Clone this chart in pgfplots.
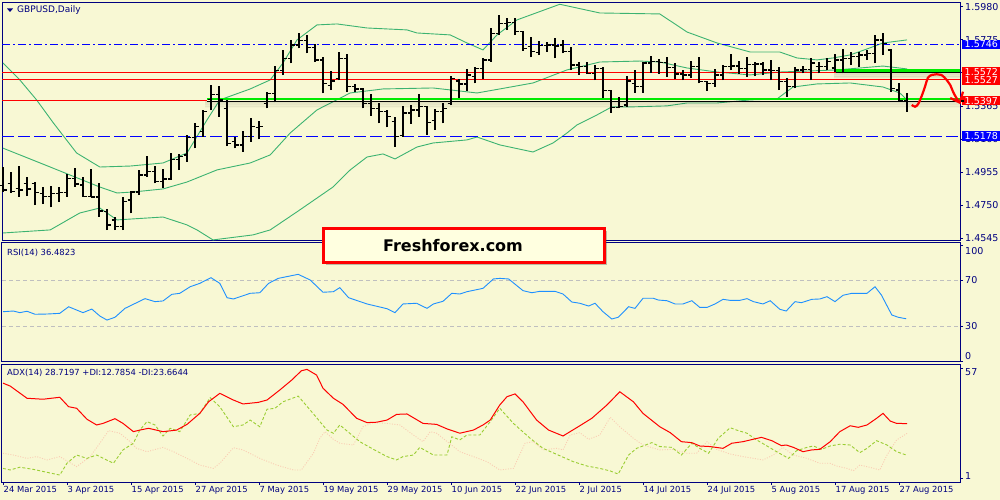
\documentclass[border=0pt]{standalone}
\usepackage{pgfplots}
\pgfplotsset{compat=1.18}
\usepackage{pgfplotstable}
\usepackage{fontspec}
\setmainfont{DejaVu Sans}
\usetikzlibrary{shadows}

\definecolor{bg}{RGB}{248,248,212}
\definecolor{frame}{RGB}{0,0,128}
\definecolor{bband}{RGB}{60,179,113}
\definecolor{rsiblue}{RGB}{30,144,255}
\definecolor{pdi}{RGB}{154,205,50}
\definecolor{mdi}{RGB}{250,205,180}
\definecolor{lvlgreen}{RGB}{0,235,0}
\definecolor{logofill}{RGB}{255,255,224}

\pgfdeclareplotmark{opentick}{\pgfpathmoveto{\pgfpoint{-3.5pt}{0pt}}\pgfpathlineto{\pgfpoint{0pt}{0pt}}\pgfusepathqstroke}
\pgfdeclareplotmark{closetick}{\pgfpathmoveto{\pgfpoint{0pt}{0pt}}\pgfpathlineto{\pgfpoint{3.5pt}{0pt}}\pgfusepathqstroke}

\newcommand\tickfont{\fontsize{9.5}{10}\selectfont}
\newcommand\lblfont{\fontsize{8.4}{9}\selectfont}

% GBPUSD daily bars: index, open, high, low, close
\pgfplotstableread{
i o h l c
0 1.4870 1.4988 1.4833 1.4843
1 1.4885 1.4957 1.4827 1.4833
2 1.4853 1.4994 1.4802 1.4843
3 1.4885 1.4926 1.4806 1.4850
4 1.4885 1.4895 1.4750 1.4827
5 1.4823 1.4864 1.4756 1.4802
6 1.4802 1.4868 1.4736 1.4823
7 1.4823 1.4864 1.4771 1.4829
8 1.4829 1.4943 1.4802 1.4916
9 1.4916 1.4978 1.4864 1.4880
10 1.4875 1.4926 1.4802 1.4802
11 1.4805 1.4971 1.4798 1.4800
12 1.4800 1.4889 1.4678 1.4713
13 1.4710 1.4723 1.4595 1.4626
14 1.4657 1.4678 1.4595 1.4616
15 1.4616 1.4798 1.4595 1.4771
16 1.4781 1.4839 1.4699 1.4830
17 1.4830 1.4967 1.4812 1.4937
18 1.4937 1.5056 1.4926 1.4957
19 1.4957 1.4992 1.4885 1.4895
20 1.4895 1.4971 1.4854 1.4912
21 1.4912 1.5075 1.4906 1.5034
22 1.5034 1.5065 1.4967 1.5050
23 1.5060 1.5185 1.5019 1.5170
24 1.5170 1.5257 1.5102 1.5236
25 1.5205 1.5339 1.5174 1.5329
26 1.5406 1.5494 1.5339 1.5437
27 1.5437 1.5488 1.5298 1.5401
28 1.5350 1.5401 1.5116 1.5130
29 1.5143 1.5174 1.5102 1.5123
30 1.5123 1.5212 1.5081 1.5174
31 1.5174 1.5288 1.5143 1.5236
32 1.5230 1.5274 1.5158 1.5236
33 1.5380 1.5453 1.5350 1.5440
34 1.5443 1.5612 1.5387 1.5583
35 1.5583 1.5711 1.5556 1.5660
36 1.5660 1.5773 1.5629 1.5742
37 1.5742 1.5815 1.5722 1.5770
38 1.5770 1.5804 1.5691 1.5726
39 1.5726 1.5747 1.5639 1.5650
40 1.5650 1.5666 1.5443 1.5505
41 1.5490 1.5583 1.5463 1.5520
42 1.5534 1.5697 1.5525 1.5660
43 1.5660 1.5687 1.5453 1.5484
44 1.5484 1.5501 1.5453 1.5470
45 1.5470 1.5474 1.5350 1.5381
46 1.5381 1.5437 1.5303 1.5350
47 1.5350 1.5381 1.5257 1.5330
48 1.5330 1.5339 1.5232 1.5298
49 1.5270 1.5298 1.5112 1.5174
50 1.5180 1.5364 1.5174 1.5320
51 1.5320 1.5370 1.5253 1.5339
52 1.5339 1.5437 1.5298 1.5360
53 1.5360 1.5364 1.5185 1.5261
54 1.5274 1.5344 1.5216 1.5329
55 1.5329 1.5385 1.5257 1.5350
56 1.5380 1.5550 1.5370 1.5535
57 1.5520 1.5530 1.5416 1.5500
58 1.5500 1.5592 1.5459 1.5556
59 1.5546 1.5608 1.5505 1.5597
60 1.5597 1.5660 1.5532 1.5650
61 1.5650 1.5846 1.5640 1.5815
62 1.5815 1.5928 1.5804 1.5877
63 1.5877 1.5908 1.5835 1.5881
64 1.5881 1.5908 1.5804 1.5825
65 1.5825 1.5830 1.5707 1.5722
66 1.5732 1.5794 1.5666 1.5701
67 1.5697 1.5767 1.5680 1.5738
68 1.5738 1.5763 1.5701 1.5742
69 1.5742 1.5784 1.5660 1.5736
70 1.5742 1.5773 1.5691 1.5701
71 1.5701 1.5732 1.5587 1.5618
72 1.5618 1.5639 1.5556 1.5608
73 1.5608 1.5639 1.5563 1.5567
74 1.5567 1.5618 1.5525 1.5598
75 1.5598 1.5604 1.5412 1.5459
76 1.5459 1.5463 1.5323 1.5356
77 1.5356 1.5422 1.5350 1.5360
78 1.5370 1.5550 1.5360 1.5520
79 1.5505 1.5588 1.5447 1.5484
80 1.5484 1.5639 1.5447 1.5630
81 1.5630 1.5675 1.5571 1.5639
82 1.5639 1.5654 1.5563 1.5633
83 1.5633 1.5666 1.5546 1.5602
84 1.5602 1.5629 1.5530 1.5563
85 1.5563 1.5588 1.5525 1.5556
86 1.5556 1.5643 1.5536 1.5608
87 1.5608 1.5666 1.5505 1.5515
88 1.5515 1.5520 1.5459 1.5505
89 1.5505 1.5592 1.5484 1.5556
90 1.5556 1.5618 1.5525 1.5608
91 1.5608 1.5687 1.5587 1.5612
92 1.5612 1.5646 1.5563 1.5598
93 1.5598 1.5670 1.5546 1.5620
94 1.5620 1.5639 1.5550 1.5625
95 1.5625 1.5639 1.5556 1.5587
96 1.5587 1.5649 1.5525 1.5583
97 1.5583 1.5608 1.5463 1.5515
98 1.5515 1.5536 1.5422 1.5484
99 1.5484 1.5608 1.5474 1.5587
100 1.5587 1.5612 1.5567 1.5592
101 1.5592 1.5660 1.5525 1.5630
102 1.5610 1.5639 1.5567 1.5608
103 1.5608 1.5660 1.5587 1.5639
104 1.5600 1.5687 1.5577 1.5649
105 1.5649 1.5716 1.5567 1.5660
106 1.5660 1.5701 1.5618 1.5670
107 1.5670 1.5701 1.5608 1.5680
108 1.5680 1.5712 1.5649 1.5691
109 1.5691 1.5804 1.5629 1.5773
110 1.5773 1.5819 1.5680 1.5753
111 1.5712 1.5716 1.5453 1.5474
112 1.5464 1.5505 1.5398 1.5400
113 1.5400 1.5447 1.5329 1.5393
}\bars

\pgfplotsset{
  mt/.style={
    scale only axis, width=958pt,
    xmin=-0.125, xmax=119.625,
    axis line style={frame, line width=1pt},
    xtick=\empty,
    ytick pos=right, yticklabel pos=right,
    tick align=outside, major tick length=3pt,
    tick style={frame, line width=0.7pt},
    yticklabel style={font=\tickfont, text=frame, anchor=west, inner sep=0pt, xshift=2pt},
    clip=false,
  },
}

\begin{document}
\begin{tikzpicture}[x=1pt,y=1pt]
\fill[bg] (0,0) rectangle (1000,500);

% ---------------- price window
\begin{axis}[mt, at={(2pt,497pt)}, anchor=north west, height=238pt,
  ymin=1.45273, ymax=1.60029,
  ytick={1.4545,1.4750,1.4955,1.5160,1.5365,1.5570,1.5775,1.5980},
  yticklabels={1.4545,1.4750,1.4955,1.5160,1.5365,1.5570,1.5775,1.5980},
]
% bollinger bands
\addplot[bband, line width=0.9pt] coordinates {(0,1.5631)(2.1,1.5526)(4.2,1.5402)(6.3,1.5259)(9.2,1.5073)(12.1,1.4986)(15.9,1.4992)(20,1.5011)(23,1.5073)(25.5,1.5278)(27.1,1.5402)(30.9,1.5470)(33.4,1.5526)(35,1.5631)(36.75,1.5774)(39.25,1.5867)(41.75,1.5873)(45.5,1.5848)(50.5,1.5836)(51.75,1.5817)(55.9,1.5805)(58,1.5755)(60,1.5712)(61.75,1.5805)(64.25,1.5898)(69.6,1.5995)(74.6,1.5941)(82.1,1.5935)(85.5,1.5823)(89.25,1.5755)(93.4,1.5699)(97.1,1.5699)(99.25,1.5662)(101.75,1.5650)(103.75,1.5662)(105.9,1.5681)(108,1.5718)(110,1.5755)(113,1.5774)};
\addplot[bband, line width=0.9pt] coordinates {(0,1.5103)(5.9,1.4986)(12.1,1.4862)(14.25,1.4825)(16.25,1.4831)(20,1.4850)(23,1.4893)(26.75,1.4968)(30.9,1.5011)(33.4,1.5061)(35.9,1.5197)(39.25,1.5340)(43.4,1.5445)(47.5,1.5470)(53.75,1.5476)(55.9,1.5464)(59.25,1.5445)(62.1,1.5470)(66.25,1.5507)(70.5,1.5588)(74.6,1.5637)(79.6,1.5643)(82.1,1.5637)(85.5,1.5600)(89.25,1.5575)(93.4,1.5557)(97.1,1.5575)(100.5,1.5581)(104.25,1.5588)(110,1.5612)(113,1.5594)};
\addplot[bband, line width=0.9pt] coordinates {(0,1.4577)(5.9,1.4596)(9.6,1.4701)(12.1,1.4732)(14.25,1.4658)(20,1.4676)(23,1.4627)(24.25,1.4596)(26.25,1.4534)(31.25,1.4565)(33.4,1.4596)(37.1,1.4720)(41.25,1.4862)(43.4,1.4968)(45.5,1.5048)(47.5,1.5067)(49,1.5036)(51.75,1.5110)(53.75,1.5135)(58,1.5154)(59.25,1.5172)(62.1,1.5123)(66.25,1.5079)(68.75,1.5135)(70.5,1.5197)(71.75,1.5247)(74.25,1.5309)(76.1,1.5359)(78.75,1.5359)(83,1.5365)(85.5,1.5383)(89.25,1.5383)(93.4,1.5402)(96.75,1.5408)(98.75,1.5482)(101.75,1.5501)(105.9,1.5507)(110,1.5482)(112.1,1.5445)(113,1.5402)};

% levels
\addplot[blue, line width=1pt, dash pattern=on 8pt off 3pt on 2pt off 3pt] coordinates {(-0.125,1.5746)(119.625,1.5746)};
\addplot[blue, line width=1pt, dash pattern=on 12pt off 4pt] coordinates {(-0.125,1.5178)(119.625,1.5178)};
\addplot[red, line width=1.1pt] coordinates {(-0.125,1.5572)(119.625,1.5572)};
\addplot[red, line width=1.1pt] coordinates {(-0.125,1.5527)(119.625,1.5527)};
\addplot[red, line width=1.1pt] coordinates {(-0.125,1.5397)(25.5,1.5397)};

% soft shadows under the green levels
\foreach \d/\o in {0.0009/0.10,0.0019/0.07,0.0028/0.045,0.0037/0.025}{
  \edef\tmp{\noexpand\addplot[black, opacity=\o, line width=2pt] coordinates {(25.3,{1.5395-\d})(119.625,{1.5395-\d})};
            \noexpand\addplot[black, opacity=\o, line width=2pt] coordinates {(103.9,{1.5572-\d})(119.625,{1.5572-\d})};}
  \tmp
}
\addplot[black, line width=1pt] coordinates {(25.5,1.5395)(119.625,1.5395)};
\addplot[lvlgreen, line width=2.2pt] coordinates {(25.5,1.5406)(119.625,1.5406)};
\addplot[black, line width=1pt] coordinates {(104.1,1.5571)(119.625,1.5571)};
\addplot[lvlgreen, line width=2.8pt] coordinates {(104.1,1.5583)(119.625,1.5583)};

% OHLC bars
\addplot[draw=none, mark=none, error bars/.cd, y dir=plus, y explicit, error mark=none,
  error bar style={black, line width=1.6pt}]
  table[x=i, y=l, y error expr=\thisrow{h}-\thisrow{l}] {\bars};
\addplot[only marks, mark=opentick, mark options={black, line width=1.4pt}] table[x=i, y=o] {\bars};
\addplot[only marks, mark=closetick, mark options={black, line width=1.4pt}] table[x=i, y=c] {\bars};

% hand drawn forecast
\addplot[red, line width=2.2pt, smooth, tension=0.6] coordinates {(113.6,1.5371)(114,1.5360)(114.4,1.5377)(114.8,1.5422)(115.25,1.5484)(115.6,1.5538)(116.1,1.5557)(116.7,1.5561)(117.3,1.5557)(117.96,1.5526)(118.4,1.5495)(118.75,1.5453)(119.2,1.5412)(119.6,1.5385)};
\addplot[red, line width=2.2pt] coordinates {(118.4,1.5414)(119.6,1.5385)(120.0,1.5453)};

\coordinate (b5746) at (axis cs:119.625,1.5746);
\coordinate (b5572) at (axis cs:119.625,1.5572);
\coordinate (b5527) at (axis cs:119.625,1.5527);
\coordinate (b5397) at (axis cs:119.625,1.5397);
\coordinate (b5178) at (axis cs:119.625,1.5178);
\end{axis}

% ---------------- RSI window
\begin{axis}[mt, at={(2pt,257pt)}, anchor=north west, height=119pt,
  ymin=-0.84, ymax=101.97,
  ytick={0,30,70,100}, yticklabels={,30,70,},
  extra y ticks={95.3,4.6}, extra y tick labels={100,0},
  extra y tick style={tick style={draw=none}},
]
\addplot[black!25, line width=0.8pt, dash pattern=on 4pt off 3pt] coordinates {(-0.125,70)(119.625,70)};
\addplot[black!25, line width=0.8pt, dash pattern=on 4pt off 3pt] coordinates {(-0.125,30)(119.625,30)};
\addplot[rsiblue, line width=0.9pt] coordinates {(0,42.6)(1.3,43.2)(2.1,41.8)(3,43.0)(4,40.4)(5.5,40.6)(7.1,41.2)(8.2,46.9)(10,41.8)(11.1,44.9)(12.1,38.9)(13,35.4)(14,37.8)(15.25,45.5)(17.75,53.9)(19,51.3)(20,51.9)(21.1,57.6)(22.1,58.5)(23.4,64.2)(24.6,67.1)(26,72.0)(27.1,67.1)(28,54.7)(28.8,53.6)(30.9,58.5)(32.1,59.0)(33.2,67.1)(34.4,71.4)(36.9,74.9)(38.4,70.0)(40,59.4)(41.3,59.9)(42.1,63.4)(43.2,54.7)(45.5,49.3)(48,45.2)(49,41.8)(50,49.3)(51.7,49.9)(53,45.5)(53.8,49.3)(55,51.6)(56.1,58.5)(57.1,57.9)(58,59.9)(60,62.8)(61.3,70.9)(62.1,71.4)(63.2,70.9)(65,60.8)(66.1,59.0)(67.1,60.2)(69,60.2)(70,57.9)(71.1,51.0)(72.1,49.9)(73.2,47.5)(74,49.9)(75,42.6)(76.1,36.3)(76.9,37.8)(78.2,46.9)(79,45.5)(80,54.2)(81.3,54.2)(81.9,52.7)(83,52.1)(84,49.3)(85,49.3)(86.1,52.1)(87.1,46.3)(88,46.3)(89,49.3)(90,53.3)(90.9,52.4)(92.1,52.4)(93,53.9)(93.8,51.3)(95,49.3)(95.9,52.1)(97.1,44.7)(97.9,43.2)(99,51.3)(99.8,50.4)(101.1,53.3)(102.1,53.6)(103,55.6)(104,51.3)(105,56.8)(106.1,58.5)(108,58.5)(109,64.2)(109.8,57.0)(111.1,39.8)(111.9,37.8)(112.9,36.5)};
\end{axis}

% ---------------- ADX window
\begin{axis}[mt, at={(2pt,135pt)}, anchor=north west, height=117pt,
  ymin=-1.03, ymax=58.53,
  ytick={1,57}, yticklabels={,},
  extra y ticks={2.0,55.0}, extra y tick labels={1,57},
  extra y tick style={tick style={draw=none}},
  xtick={0,8,...,112}, xtick pos=bottom,
  xticklabels={24 Mar 2015,3 Apr 2015,15 Apr 2015,27 Apr 2015,7 May 2015,19 May 2015,29 May 2015,10 Jun 2015,22 Jun 2015,2 Jul 2015,14 Jul 2015,24 Jul 2015,5 Aug 2015,17 Aug 2015,27 Aug 2015},
  xticklabel style={font=\lblfont, text=frame, anchor=north west, inner sep=0pt, xshift=0.5pt, yshift=-1pt},
]
\addplot[mdi, line width=0.9pt, dash pattern=on 1pt off 1.5pt] coordinates {(0,13.6)(1.3,12.7)(3,11.0)(4.2,11.9)(5.5,10.2)(7.1,11.9)(9.2,6.8)(10.9,11.9)(12.1,18.7)(13.2,25.1)(14.6,23.8)(15.9,19.5)(16.7,16.1)(18,14.4)(20,16.6)(21.3,14.4)(23,11.0)(24.6,7.6)(26.3,5.9)(27.1,8.5)(28.8,16.4)(30,15.3)(32.1,11.0)(34.2,7.6)(36.3,5.1)(37.3,5.1)(38.8,13.6)(39.6,21.2)(40.25,24.6)(41.3,20.7)(42.1,18.7)(43.8,17.8)(45,27.1)(46.3,29.2)(48,28.8)(49.6,28.0)(51.3,22.9)(52.5,19.5)(53.4,24.6)(54.2,23.8)(55.9,18.3)(57.1,14.4)(58.8,11.9)(60.5,9.3)(62.1,5.1)(63.8,5.9)(65.25,18.7)(66.3,19.5)(67.5,15.3)(69.2,16.1)(70,15.3)(70.9,22.9)(72.1,24.1)(73.2,20.7)(74.6,22.9)(75.9,31.9)(77.1,27.1)(78.8,21.2)(80,17.8)(82.1,15.3)(83.8,15.6)(85.5,13.6)(86.7,13.6)(88,19.5)(89.2,15.6)(90.9,13.2)(92.5,11.9)(95,10.2)(96.3,12.7)(97.5,16.6)(98.8,12.7)(100.5,11.0)(102.1,8.5)(103.4,8.5)(104.2,7.1)(105.5,5.9)(106.3,4.7)(107.1,7.6)(108.4,6.4)(109.6,5.1)(110.5,12.7)(111.7,20.4)(113,23.7)};
\addplot[pdi, line width=0.9pt, dash pattern=on 3pt off 2pt] coordinates {(0,5.9)(0.9,5.1)(2.1,6.5)(3.8,5.4)(5.5,3.9)(7.1,2.5)(8,8.5)(9.2,12.7)(10.5,11.0)(11.7,12.7)(13.8,8.5)(15,15.3)(16.3,18.7)(17.1,25.4)(18,29.7)(19,28.0)(20,22.4)(20.9,26.3)(22.1,24.6)(23.4,33.1)(24.6,33.9)(25.9,41.9)(27.1,37.3)(28.8,27.1)(30,28.0)(30.9,30.5)(32.1,27.1)(33,36.0)(34,36.5)(35,39.8)(36.9,42.7)(38.4,35.6)(40.5,25.4)(41.3,23.8)(42.1,28.0)(44.6,19.5)(46.3,15.6)(48,11.9)(49.2,10.2)(50,11.9)(51.3,12.7)(52.1,16.6)(53.8,12.7)(55.5,12.7)(56.1,22.0)(57.1,20.4)(58,22.9)(59.6,22.9)(60.9,29.7)(62.1,36.5)(63.8,28.8)(65.9,21.2)(67.5,16.1)(69.4,12.7)(71.3,9.3)(73,7.1)(74.6,5.9)(75.9,4.6)(76.9,3.0)(78.2,12.7)(79.2,16.1)(81.1,19.0)(82.1,17.0)(83.6,16.6)(84.8,12.7)(86.1,18.7)(87.1,16.1)(88.2,13.6)(89.4,21.2)(90.9,26.6)(91.7,25.4)(93,23.8)(94.2,20.4)(95.5,17.3)(96.7,14.4)(98.2,11.0)(99.2,14.9)(100.5,16.6)(101.3,17.3)(102.3,15.6)(103.4,17.3)(104.6,18.2)(105.9,17.8)(107.1,13.9)(108,16.1)(109.2,20.0)(110.5,17.8)(111.7,14.4)(112.9,12.7)};
\addplot[red, line width=1pt] coordinates {(0,49.3)(0.9,47.8)(3,41.6)(5,41.1)(7.1,42.1)(8.2,37.3)(9.2,36.5)(10.5,30.9)(11.7,28.0)(12.5,28.8)(14,31.2)(15,28.8)(16.3,24.6)(17.1,25.4)(18.2,26.3)(20,24.6)(21.7,25.4)(23,28.3)(24.6,33.9)(25.7,39.8)(27.1,44.1)(28.8,40.7)(30,38.7)(31.9,39.5)(33,40.7)(34.6,45.8)(36.1,50.9)(37.3,55.6)(38,56.3)(39.2,53.4)(40,46.7)(41.3,41.6)(42.5,38.5)(44.2,31.4)(45.5,29.2)(46.7,29.4)(48,30.5)(49.2,33.4)(50.5,33.6)(52.5,28.8)(54.2,28.3)(55.5,26.0)(57.1,23.8)(58.8,25.4)(60,28.0)(60.9,30.5)(62.1,38.2)(63,42.4)(64,43.8)(65,39.8)(66.7,30.5)(68.2,25.4)(70,22.4)(71.9,27.1)(73.6,31.4)(75.5,38.2)(77.1,44.9)(78.8,39.8)(80,33.9)(82.1,27.1)(83.4,24.1)(84.8,19.5)(86.1,19.0)(87.1,17.3)(88.4,17.0)(90,16.1)(91.1,18.7)(92.5,19.5)(94.8,21.7)(96.1,20.0)(97.3,17.5)(97.9,17.8)(98.8,16.6)(100,14.4)(101.1,15.3)(102.1,15.6)(103.4,19.5)(104.6,24.6)(105.9,27.6)(106.9,26.8)(108,28.0)(109.2,31.4)(110,33.9)(110.9,30.0)(111.7,28.8)(113,28.7)};
\end{axis}

% window captions
\fill[frame] (7,491.5) -- (13,491.5) -- (10,488) -- cycle;
\node[anchor=west, inner sep=0pt, font=\fontsize{9}{10}\selectfont, text=frame] at (17,490) {GBPUSD,Daily};
\node[anchor=west, inner sep=0pt, font=\lblfont, text=frame] at (7,247.3) {RSI(14) 36.4823};
\node[anchor=west, inner sep=0pt, font=\lblfont, text=frame] at (7,126.7) {ADX(14) 28.7197 +DI:12.7854 -DI:23.6644};

% price labels of the levels
\tikzset{pbox/.style={anchor=west, text=white, inner xsep=2.5pt, inner ysep=0pt, minimum height=9.5pt, font=\tickfont}}
\node[pbox, fill=blue] at ([xshift=2pt]b5746) {1.5746};
\node[pbox, fill=red] at ([xshift=2pt,yshift=0.6pt]b5572) {1.5572};
\node[pbox, fill=red] at ([xshift=2pt,yshift=-0.6pt]b5527) {1.5527};
\node[pbox, fill=red] at ([xshift=2pt]b5397) {1.5397};
\fill[black] ([xshift=1pt,yshift=-1pt]b5397) rectangle ++(2.5,2);
\node[pbox, fill=blue] at ([xshift=2pt]b5178) {1.5178};

% logo
\node[draw=red, line width=3pt, fill=logofill, minimum width=281pt, minimum height=34pt, inner sep=0pt,
  drop shadow={shadow xshift=3pt, shadow yshift=-3pt, opacity=0.35, fill=black!70}] at (463.5,254.5) {};
\node[font=\bfseries\fontsize{16}{18}\selectfont] at (453,254.5) {Freshforex.com};

\pgfresetboundingbox
\useasboundingbox (0,0) rectangle (1000,500);
\end{tikzpicture}
\end{document}
